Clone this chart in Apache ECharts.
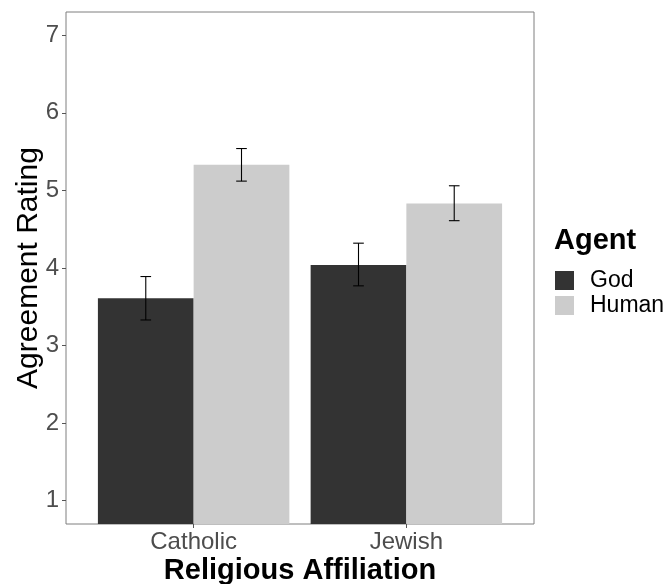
<!DOCTYPE html>
<html>
<head>
<meta charset="utf-8">
<script src="https://cdn.jsdelivr.net/npm/echarts@6/dist/echarts.min.js"></script>
<style>
  html, body { margin: 0; padding: 0; background: #fff; }
  #chart { width: 666px; height: 584px; }
</style>
</head>
<body>
<div id="chart"></div>
<script>
// Mean agreement ratings by religious affiliation and agent, with error bars
const categories = ['Catholic', 'Jewish'];
const agents = ['God', 'Human'];
const godMean = [3.61, 4.04];
const humanMean = [5.33, 4.83];
const godLower = [3.33, 3.77];
const godUpper = [3.89, 4.32];
const humanLower = [5.12, 4.61];
const humanUpper = [5.54, 5.06];
const yTicks = [1, 2, 3, 4, 5, 6, 7];

const FONT = '"Liberation Sans", Arial, sans-serif';
const colors = { God: '#333333', Human: '#cccccc' };

// Bars sit at x = 1, 2 on a continuous axis; each dodged bar is 0.45 wide
const dodge = 0.225;
const barData = (means) => means.map((v, i) => [i + 1, v]);
const errData = (lo, hi, shift) => lo.map((l, i) => [i + 1 + shift, l, hi[i]]);

const chart = echarts.init(document.getElementById('chart'), null, { renderer: 'canvas' });

const gridLeft = 66, gridRight = 132, gridTop = 12, gridBottom = 60;
const plotW = 666 - gridLeft - gridRight;
const barPx = plotW * 0.45 / 2.2;

function errorBar(params, api) {
  const x = api.value(0);
  const lo = api.coord([x, api.value(1)]);
  const hi = api.coord([x, api.value(2)]);
  const capL = api.coord([x - 0.025, api.value(1)])[0];
  const capR = api.coord([x + 0.025, api.value(1)])[0];
  const style = { stroke: '#000', lineWidth: 1.1 };
  return {
    type: 'group',
    children: [
      { type: 'line', shape: { x1: lo[0], y1: lo[1], x2: hi[0], y2: hi[1] }, style },
      { type: 'line', shape: { x1: capL, y1: lo[1], x2: capR, y2: lo[1] }, style },
      { type: 'line', shape: { x1: capL, y1: hi[1], x2: capR, y2: hi[1] }, style }
    ]
  };
}

chart.setOption({
  animation: false,
  textStyle: { fontFamily: FONT },
  title: {
    text: 'Agent',
    left: 554,
    top: 226,
    padding: 0,
    textStyle: { fontFamily: FONT, fontSize: 29, fontWeight: 'bold', color: '#000' }
  },
  legend: {
    data: agents,
    orient: 'vertical',
    left: 555,
    top: 269,
    padding: 0,
    itemWidth: 19,
    itemHeight: 19,
    itemGap: 2,
    icon: 'rect',
    textStyle: { fontFamily: FONT, fontSize: 23, lineHeight: 19, color: '#000', padding: [0, 0, 0, 11] }
  },
  grid: {
    left: gridLeft, right: gridRight, top: gridTop, bottom: gridBottom,
    outerBoundsMode: 'none',
    containLabel: false,
    show: true, borderColor: '#7f7f7f', borderWidth: 1, backgroundColor: '#fff'
  },
  xAxis: {
    type: 'value',
    min: 0.4,
    max: 2.6,
    name: 'Religious Affiliation',
    nameLocation: 'middle',
    nameGap: 32,
    nameMoveOverlap: false,
    nameTextStyle: { fontFamily: FONT, fontSize: 29, fontWeight: 'bold', color: '#000' },
    axisLine: { show: false },
    splitLine: { show: false },
    axisTick: { show: true, customValues: [1, 2], length: 4, lineStyle: { color: '#555' } },
    axisLabel: {
      customValues: [1, 2],
      formatter: (v) => categories[Math.round(v) - 1],
      fontFamily: FONT, fontSize: 24, color: '#4d4d4d', margin: 6
    }
  },
  yAxis: {
    type: 'value',
    min: 0.7,
    max: 7.3,
    name: 'Agreement Rating',
    nameLocation: 'middle',
    nameGap: 22,
    nameMoveOverlap: false,
    nameTextStyle: { fontFamily: FONT, fontSize: 30, color: '#000' },
    axisLine: { show: false },
    splitLine: { show: false },
    axisTick: { show: true, customValues: yTicks, length: 4, lineStyle: { color: '#555' } },
    axisLabel: {
      customValues: yTicks,
      fontFamily: FONT, fontSize: 24, color: '#4d4d4d', margin: 7
    }
  },
  series: [
    {
      name: 'God', type: 'bar', data: barData(godMean),
      barWidth: barPx, barGap: '0%', itemStyle: { color: colors.God }, clip: true
    },
    {
      name: 'Human', type: 'bar', data: barData(humanMean),
      barWidth: barPx, barGap: '0%', itemStyle: { color: colors.Human }, clip: true
    },
    {
      type: 'custom', renderItem: errorBar, data: errData(godLower, godUpper, -dodge),
      encode: { x: 0, y: [1, 2] }, z: 5
    },
    {
      type: 'custom', renderItem: errorBar, data: errData(humanLower, humanUpper, dodge),
      encode: { x: 0, y: [1, 2] }, z: 5
    }
  ]
});
</script>
</body>
</html>
